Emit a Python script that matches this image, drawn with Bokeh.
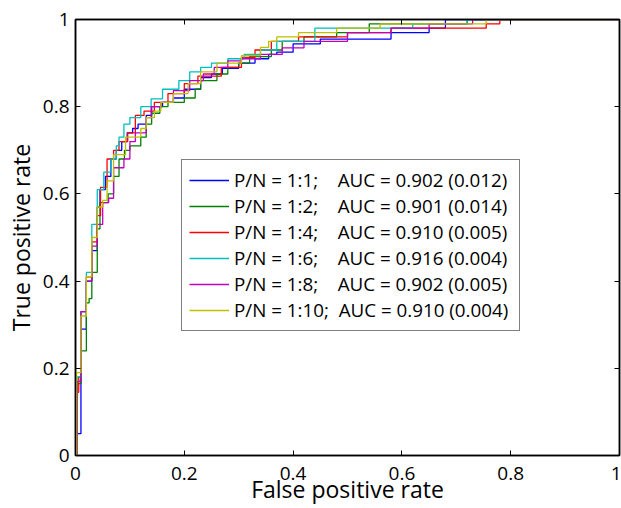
from bokeh.plotting import figure
from bokeh.models import LinearAxis, FixedTicker, Range1d, Legend, LegendItem
from bokeh.embed import file_html
from bokeh.resources import INLINE

# ---- data (ROC step points: at fpr x the tpr rises to y) ----
blue_x = [0, 0.002, 0.01, 0.02, 0.03, 0.04, 0.045, 0.055, 0.065, 0.075, 0.085, 0.095, 0.105, 0.115, 0.13, 0.14, 0.16, 0.18, 0.20, 0.23, 0.25, 0.27, 0.30, 0.33, 0.355, 0.37, 0.40, 0.45, 0.58, 0.65, 0.68, 1.0]
blue_y = [0, 0.05, 0.29, 0.40, 0.47, 0.57, 0.61, 0.64, 0.68, 0.70, 0.72, 0.74, 0.75, 0.76, 0.78, 0.80, 0.81, 0.82, 0.84, 0.867, 0.875, 0.888, 0.90, 0.91, 0.92, 0.925, 0.944, 0.955, 0.97, 0.98, 1.0, 1.0]

green_x = [0, 0.003, 0.01, 0.02, 0.025, 0.03, 0.04, 0.045, 0.06, 0.07, 0.08, 0.09, 0.10, 0.12, 0.13, 0.14, 0.155, 0.17, 0.20, 0.22, 0.23, 0.26, 0.28, 0.30, 0.32, 0.36, 0.38, 0.42, 0.48, 0.54, 0.72, 1.0]
green_y = [0, 0.165, 0.24, 0.35, 0.36, 0.42, 0.52, 0.58, 0.60, 0.64, 0.68, 0.70, 0.71, 0.73, 0.76, 0.785, 0.80, 0.81, 0.82, 0.84, 0.86, 0.875, 0.89, 0.90, 0.915, 0.93, 0.95, 0.96, 0.97, 0.99, 1.0, 1.0]

red_x = [0, 0.002, 0.006, 0.01, 0.02, 0.03, 0.04, 0.046, 0.058, 0.07, 0.08, 0.096, 0.11, 0.126, 0.145, 0.17, 0.20, 0.225, 0.268, 0.305, 0.33, 0.36, 0.41, 0.50, 0.58, 0.755, 0.78, 1.0]
red_y = [0, 0.145, 0.18, 0.33, 0.41, 0.49, 0.55, 0.615, 0.68, 0.70, 0.72, 0.74, 0.78, 0.79, 0.81, 0.83, 0.853, 0.87, 0.89, 0.913, 0.93, 0.95, 0.96, 0.97, 0.98, 0.99, 1.0, 1.0]

cyan_x = [0, 0.003, 0.01, 0.02, 0.03, 0.04, 0.052, 0.065, 0.075, 0.08, 0.089, 0.10, 0.12, 0.139, 0.16, 0.19, 0.21, 0.23, 0.25, 0.28, 0.31, 0.34, 0.37, 0.44, 0.62, 0.72, 1.0]
cyan_y = [0, 0.18, 0.33, 0.42, 0.53, 0.61, 0.65, 0.68, 0.71, 0.73, 0.76, 0.775, 0.80, 0.818, 0.84, 0.86, 0.88, 0.89, 0.90, 0.91, 0.92, 0.93, 0.95, 0.98, 0.99, 1.0, 1.0]

magenta_x = [0, 0.003, 0.01, 0.02, 0.03, 0.04, 0.05, 0.061, 0.07, 0.089, 0.10, 0.11, 0.13, 0.139, 0.157, 0.18, 0.21, 0.235, 0.255, 0.28, 0.305, 0.34, 0.38, 0.42, 0.50, 0.58, 0.65, 0.73, 1.0]
magenta_y = [0, 0.17, 0.33, 0.40, 0.48, 0.53, 0.58, 0.59, 0.66, 0.68, 0.72, 0.74, 0.775, 0.80, 0.81, 0.837, 0.86, 0.875, 0.89, 0.905, 0.91, 0.92, 0.935, 0.95, 0.97, 0.98, 0.99, 1.0, 1.0]

yellow_x = [0, 0.002, 0.01, 0.02, 0.03, 0.04, 0.05, 0.058, 0.07, 0.092, 0.12, 0.13, 0.145, 0.157, 0.18, 0.207, 0.23, 0.26, 0.305, 0.34, 0.355, 0.37, 0.41, 0.48, 0.56, 0.755, 1.0]
yellow_y = [0, 0.19, 0.32, 0.41, 0.50, 0.57, 0.585, 0.63, 0.69, 0.73, 0.75, 0.775, 0.79, 0.81, 0.83, 0.853, 0.88, 0.90, 0.917, 0.936, 0.95, 0.96, 0.97, 0.98, 0.99, 1.0, 1.0]

series_labels = [
    "P/N = 1:1;    AUC = 0.902 (0.012)",
    "P/N = 1:2;    AUC = 0.901 (0.014)",
    "P/N = 1:4;    AUC = 0.910 (0.005)",
    "P/N = 1:6;    AUC = 0.916 (0.004)",
    "P/N = 1:8;    AUC = 0.902 (0.005)",
    "P/N = 1:10;  AUC = 0.910 (0.004)",
]
series_colors = ["#0000FF", "#008000", "#FF0000", "#00BFBF", "#BF00BF", "#BFBF00"]

tick_values = [0, 0.2, 0.4, 0.6, 0.8, 1.0]
tick_labels = ["0", "0.2", "0.4", "0.6", "0.8", "1"]

x_title = "False positive rate"
y_title = "True positive rate"

FONT = "Open Sans"

p = figure(width=621, height=508, output_backend="svg", toolbar_location=None,
           x_range=Range1d(0, 1), y_range=Range1d(0, 1),
           x_axis_location=None, y_axis_location=None)
p.min_border = 0
p.min_border_left = 75
p.min_border_right = 2
p.min_border_top = 19
p.min_border_bottom = 53
p.grid.visible = False
p.outline_line_color = "black"
p.outline_line_width = 1.5
p.background_fill_color = "white"
p.border_fill_color = "white"

overrides = {v: t for v, t in zip(tick_values, tick_labels)}

def make_axis(show_labels, standoff):
    ax = LinearAxis(ticker=FixedTicker(ticks=tick_values))
    ax.major_label_overrides = overrides
    ax.major_tick_in = 5
    ax.major_tick_out = 0
    ax.minor_tick_line_color = None
    ax.axis_line_color = "black"
    ax.axis_line_width = 1.5
    ax.major_tick_line_color = "black"
    ax.major_tick_line_width = 1
    ax.major_label_text_font = FONT
    ax.major_label_standoff = standoff
    ax.axis_label_text_font = FONT
    ax.axis_label_text_font_size = "23px"
    ax.axis_label_text_font_style = "normal"
    ax.axis_label_text_color = "black"
    if show_labels:
        ax.major_label_text_font_size = "19px"
        ax.major_label_text_color = "black"
    else:
        ax.major_label_text_font_size = "1px"
        ax.major_label_text_color = None
        ax.major_label_standoff = 0
    return ax

xax = make_axis(True, 11)
xax.axis_label = x_title
xax.axis_label_standoff = -10
yax = make_axis(True, 6)
yax.axis_label = y_title
yax.axis_label_standoff = 3
p.add_layout(xax, "below")
p.add_layout(yax, "left")
p.add_layout(make_axis(False, 0), "above")
p.add_layout(make_axis(False, 0), "right")

xs = [blue_x, green_x, red_x, cyan_x, magenta_x, yellow_x]
ys = [blue_y, green_y, red_y, cyan_y, magenta_y, yellow_y]
items = []
for sx, sy, c, lab in zip(xs, ys, series_colors, series_labels):
    r = p.step(sx, sy, mode="after", line_color=c, line_width=1.3)
    items.append(LegendItem(label=lab, renderers=[r]))

legend = Legend(items=items, location=(106, 124))
legend.label_text_font = FONT
legend.label_text_font_size = "18.8px"
legend.label_text_color = "black"
legend.glyph_width = 40
legend.glyph_height = 26
legend.label_height = 26
legend.label_width = 278
legend.label_standoff = 5
legend.spacing = 0
legend.padding = 7
legend.margin = 0
legend.border_line_color = "black"
legend.border_line_width = 1.5
legend.background_fill_color = "white"
legend.background_fill_alpha = 1
p.add_layout(legend, "center")

open("out.html", "w").write(file_html(p, INLINE))
